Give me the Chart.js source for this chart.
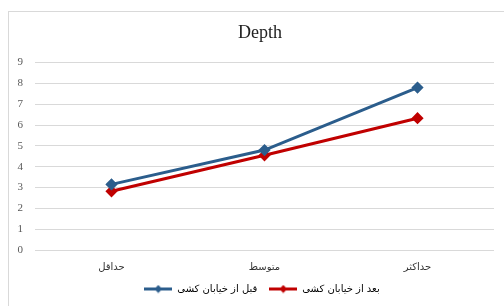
<!DOCTYPE html>
<html>
<head>
<meta charset="utf-8">
<script src="https://cdn.jsdelivr.net/npm/chart.js@4"></script>
<style>
  html, body { margin: 0; padding: 0; overflow: hidden; background: #fff; }
  #frame { position: absolute; left: 8px; top: 11px; width: 520px; height: 320px;
           border-left: 1px solid #d9d9d9; border-top: 1px solid #d9d9d9; }
  #js-chart { position: absolute; left: 0; top: 0; }
</style>
</head>
<body>
<div id="frame"></div>
<canvas id="js-chart" width="504" height="306"></canvas>
<script>
const categories = ["حداقل", "متوسط", "حداکثر"];
const beforeValues = [3.15, 4.8, 7.8];
const afterValues = [2.82, 4.55, 6.33];
const seriesNames = ["قبل از خیابان کشی", "بعد از خیابان کشی"];
const yTicks = [0, 1, 2, 3, 4, 5, 6, 7, 8, 9];

const BLUE = "#2b5d8c";
const RED = "#c00000";

function legendIcon(color) {
  const c = document.createElement("canvas");
  c.width = 28;
  c.height = 9;
  const ctx = c.getContext("2d");
  ctx.strokeStyle = color;
  ctx.lineWidth = 3;
  ctx.beginPath();
  ctx.moveTo(0, 4.5);
  ctx.lineTo(28, 4.5);
  ctx.stroke();
  ctx.fillStyle = color;
  ctx.beginPath();
  ctx.moveTo(14, 0.5);
  ctx.lineTo(18, 4.5);
  ctx.lineTo(14, 8.5);
  ctx.lineTo(10, 4.5);
  ctx.closePath();
  ctx.fill();
  return c;
}

const icons = [legendIcon(BLUE), legendIcon(RED)];

// title and legend in the reference are centred a bit right of the canvas middle
const shiftBoxes = {
  id: "shiftBoxes",
  afterLayout(chart) {
    chart.titleBlock.left = 26;
    chart.legend.left = 30;
  },
};

function drawChart() {
  const context = document.getElementById("js-chart").getContext("2d");

  new Chart(context, {
    type: "line",
    data: {
      labels: categories,
      datasets: [
        {
          label: seriesNames[0],
          data: beforeValues,
          borderColor: BLUE,
          backgroundColor: BLUE,
          borderWidth: 3,
          pointStyle: "rectRot",
          pointRadius: 4,
          pointHoverRadius: 4,
          fill: false,
        },
        {
          label: seriesNames[1],
          data: afterValues,
          borderColor: RED,
          backgroundColor: RED,
          borderWidth: 3,
          pointStyle: "rectRot",
          pointRadius: 4,
          pointHoverRadius: 4,
          fill: false,
        },
      ],
    },
    plugins: [shiftBoxes],
    options: {
      responsive: false,
      animation: false,
      layout: { padding: { left: 0, right: 10, top: 0, bottom: 2 } },
      plugins: {
        title: {
          display: true,
          text: "Depth",
          color: "#222",
          font: { family: "Liberation Serif", size: 18, weight: "normal" },
          padding: { top: 22, bottom: 19 },
        },
        legend: {
          position: "bottom",
          labels: {
            usePointStyle: true,
            pointStyleWidth: 28,
            boxHeight: 9,
            padding: 12,
            color: "#333",
            font: { family: "DejaVu Sans", size: 10 },
            generateLabels: (chart) =>
              chart.data.datasets.map((ds, i) => ({
                text: ds.label,
                fillStyle: ds.borderColor,
                strokeStyle: ds.borderColor,
                pointStyle: icons[i],
                datasetIndex: i,
                hidden: false,
                lineWidth: 0,
              })),
          },
        },
        tooltip: { enabled: false },
      },
      scales: {
        x: {
          offset: true,
          grid: { display: false },
          border: { display: false },
          ticks: {
            color: "#333",
            padding: 3,
            font: { family: "DejaVu Sans", size: 10 },
          },
          afterFit: (scale) => { scale.height = 22; },
        },
        y: {
          min: 0,
          max: 9,
          afterBuildTicks: (scale) => {
            scale.ticks = yTicks.map((v) => ({ value: v }));
          },
          grid: { color: "#d9d9d9", drawTicks: false },
          border: { display: false },
          ticks: {
            color: "#595959",
            padding: 12,
            font: { family: "Liberation Serif", size: 11 },
          },
          afterFit: (scale) => { scale.width = 35; },
        },
      },
    },
  });
}

drawChart();
</script>
</body>
</html>
